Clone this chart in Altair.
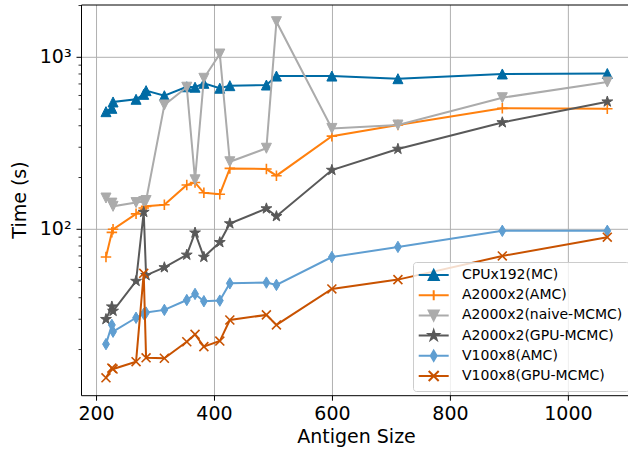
import math
import altair as alt
import pandas as pd

# ---------------- data ----------------
antigen_size = [216, 226, 228, 267, 280, 284, 315, 353, 367, 382, 409, 426, 488, 505, 599, 711, 888, 1066]

series_names = ["CPUx192(MC)", "A2000x2(AMC)", "A2000x2(naive-MCMC)",
                "A2000x2(GPU-MCMC)", "V100x8(AMC)", "V100x8(GPU-MCMC)"]

cpu_mc = [483, 505, 550, 570, 609, 640, 598, 674, 670, 706, 661, 684, 690, 778, 778, 751, 800, 805]
a2000_amc = [69, 96, 100, 123, 133, 136, 139, 181, 187, 163, 160, 226, 224, 205, 348, 404, 505, 502]
a2000_naive = [152, 142, 136, 143, 145, 147, 528, 670, 194, 755, 1045, 247, 296, 1611, 386, 404, 582, 718]
a2000_gpu = [30, 35.5, 33.5, 50, 126, 54, 60, 71, 95.5, 69, 84, 108, 132, 119, 221, 293, 418, 552]
v100_amc = [21.5, 27.8, 25.4, 30.6, 32.3, 32.8, 34, 38.8, 42.1, 38.2, 38.5, 48.5, 49, 47.5, 69, 79, 98, 98]
v100_gpu = [13.7, 15.6, 15.4, 17.0, 55.5, 17.9, 17.8, 22.2, 24.5, 20.8, 22.4, 29.7, 31.8, 27.8, 45, 51, 70, 90]

series_values = [cpu_mc, a2000_amc, a2000_naive, a2000_gpu, v100_amc, v100_gpu]

colors = ["#006BA4", "#FF800E", "#ABABAB", "#595959", "#5F9ED1", "#C85200"]

x_ticks = [200, 400, 600, 800, 1000]
x_title = "Antigen Size"
y_title = "Time (s)"
y_major = [100, 1000]
y_major_labels = ["10²", "10³"]
y_minor = [20, 30, 40, 50, 60, 70, 80, 90, 200, 300, 400, 500, 600, 700, 800, 900, 2000]
x_range = [174.5, 1101.1]
y_range = [10.78, 2014]

# ---------------- marker shapes ----------------
TRI_UP = "M0,-1L1,1L-1,1Z"
PLUS = "M-1,0L1,0M0,-1L0,1"
TRI_DOWN = "M0,1L1,-1L-1,-1Z"
STAR = ("M0,-1L0.2245,-0.309L0.951,-0.309L0.363,0.118L0.588,0.809L0,0.382"
        "L-0.588,0.809L-0.363,0.118L-0.951,-0.309L-0.2245,-0.309Z")
THIN_D = "M0,-1L0.6,0L0,1L-0.6,0Z"
XMARK = "M-1,-1L1,1M-1,1L1,-1"

marker_paths = [TRI_UP, PLUS, TRI_DOWN, STAR, THIN_D, XMARK]
marker_filled = [True, False, True, True, True, False]
marker_sizes = [100, 110, 100, 130, 130, 80]
LINE = "M-3,0L3,0"
legend_paths = [LINE + p for p in marker_paths]

rows = []
for name, vals in zip(series_names, series_values):
    for xv, yv in zip(antigen_size, vals):
        rows.append({"series": name, "x": xv, "y": yv})
df = pd.DataFrame(rows)

# ---------------- geometry / scales ----------------
FONT = "DejaVu Sans"
W, H = 546.5, 390.7
LOG = "log(datum.{f}) / LN10"
xscale = alt.Scale(domain=x_range, nice=False, zero=False)
yscale = alt.Scale(domain=[math.log10(v) for v in y_range], nice=False, zero=False)


def xq(field):
    return alt.X(field + ":Q", scale=xscale, axis=None)


def yq(field):
    return alt.Y(field + ":Q", scale=yscale, axis=None)


xt_df = pd.DataFrame({"t": x_ticks, "label": [str(t) for t in x_ticks]})
ymaj_df = pd.DataFrame({"v": y_major, "label": y_major_labels})
ymin_df = pd.DataFrame({"v": y_minor})

# grid lines
x_grid = alt.Chart(xt_df).mark_rule(color="#b0b0b0", strokeWidth=1).encode(x=xq("t"))
y_grid = alt.Chart(ymaj_df).transform_calculate(lv=LOG.format(f="v")).mark_rule(
    color="#b0b0b0", strokeWidth=1).encode(y=yq("lv"))

# spines (left, bottom, top) at the ends of the scale ranges
left_spine = alt.Chart(pd.DataFrame({"v": [x_range[0]]})).mark_rule(
    color="black", strokeWidth=1).encode(x=xq("v"))
hspine_df = pd.DataFrame({"v": y_range})
h_spines = alt.Chart(hspine_df).transform_calculate(lv=LOG.format(f="v")).mark_rule(
    color="black", strokeWidth=1).encode(y=yq("lv"))

# x ticks, tick labels and title
x_tickmarks = alt.Chart(xt_df).mark_rule(color="black", strokeWidth=1).encode(
    x=xq("t"), y=alt.value(H), y2=alt.value(H + 5))
x_ticklabels = alt.Chart(xt_df).mark_text(
    align="center", baseline="top", font=FONT, fontSize=19, color="black"
).encode(x=xq("t"), y=alt.value(H + 9.3), text="label:N")
x_title_layer = alt.Chart(pd.DataFrame({"title": [x_title]})).mark_text(
    align="center", baseline="alphabetic", font=FONT, fontSize=19, color="black"
).encode(x=alt.value(275), y=alt.value(438), text="title:N")

# y ticks (major / minor), labels and title
y_major_ticks = alt.Chart(ymaj_df).transform_calculate(lv=LOG.format(f="v")).mark_rule(
    color="black", strokeWidth=1).encode(y=yq("lv"), x=alt.value(-5), x2=alt.value(0))
y_minor_ticks = alt.Chart(ymin_df).transform_calculate(lv=LOG.format(f="v")).mark_rule(
    color="black", strokeWidth=0.8).encode(y=yq("lv"), x=alt.value(-3), x2=alt.value(0))
y_ticklabels = alt.Chart(ymaj_df).transform_calculate(lv=LOG.format(f="v")).mark_text(
    align="right", baseline="middle", font=FONT, fontSize=19, color="black"
).encode(y=yq("lv"), x=alt.value(-10), text="label:N")
y_title_layer = alt.Chart(pd.DataFrame({"title": [y_title]})).mark_text(
    align="center", baseline="alphabetic", angle=270, font=FONT, fontSize=19, color="black"
).encode(x=alt.value(-55.7), y=alt.value(195), text="title:N")

# data series (line + markers, series after series as in the reference)
data_layers = []
for i, name in enumerate(series_names):
    base = alt.Chart(df).transform_filter(alt.datum.series == name).transform_calculate(
        ly=LOG.format(f="y"))
    line = base.mark_line(color=colors[i], strokeWidth=2).encode(x=xq("x"), y=yq("ly"))
    if marker_filled[i]:
        pts = base.mark_point(shape=marker_paths[i], filled=True, fill=colors[i], stroke=colors[i],
                              strokeWidth=1, opacity=1, size=marker_sizes[i])
    else:
        pts = base.mark_point(shape=marker_paths[i], filled=False, stroke=colors[i],
                              strokeWidth=1.6, opacity=1, size=marker_sizes[i])
    pts = pts.encode(x=xq("x"), y=yq("ly"))
    data_layers += [line, pts]

# legend (line + marker symbols)
leg = alt.Legend(title=None, orient="none", legendX=331.5, legendY=257,
                 labelFontSize=14, labelFont=FONT, labelColor="black", labelLimit=400,
                 symbolSize=100, symbolStrokeWidth=2, symbolOffset=7.7, labelOffset=21.3,
                 padding=6, rowPadding=2.2, fillColor="rgba(255,255,255,0.8)",
                 strokeColor="#cccccc", cornerRadius=3)

legend_layer = alt.Chart(df).transform_filter("false").transform_calculate(
    ly=LOG.format(f="y")
).mark_point(filled=True, strokeWidth=2, opacity=1).encode(
    x=xq("x"),
    y=yq("ly"),
    color=alt.Color("series:N", scale=alt.Scale(domain=series_names, range=colors), legend=leg),
    stroke=alt.Stroke("series:N", scale=alt.Scale(domain=series_names, range=colors), legend=leg),
    shape=alt.Shape("series:N", scale=alt.Scale(domain=series_names, range=legend_paths), legend=leg),
)

chart = alt.layer(
    x_grid, y_grid, *data_layers,
    left_spine, h_spines, x_tickmarks, x_ticklabels, x_title_layer,
    y_major_ticks, y_minor_ticks, y_ticklabels, y_title_layer,
    legend_layer,
).properties(
    width=W, height=H,
    padding={"left": 81.5, "top": 5, "right": 0, "bottom": 57.3},
    autosize="none",
).configure_view(stroke=None)

chart.save("out.html", embed_options={"renderer": "svg", "actions": False})
